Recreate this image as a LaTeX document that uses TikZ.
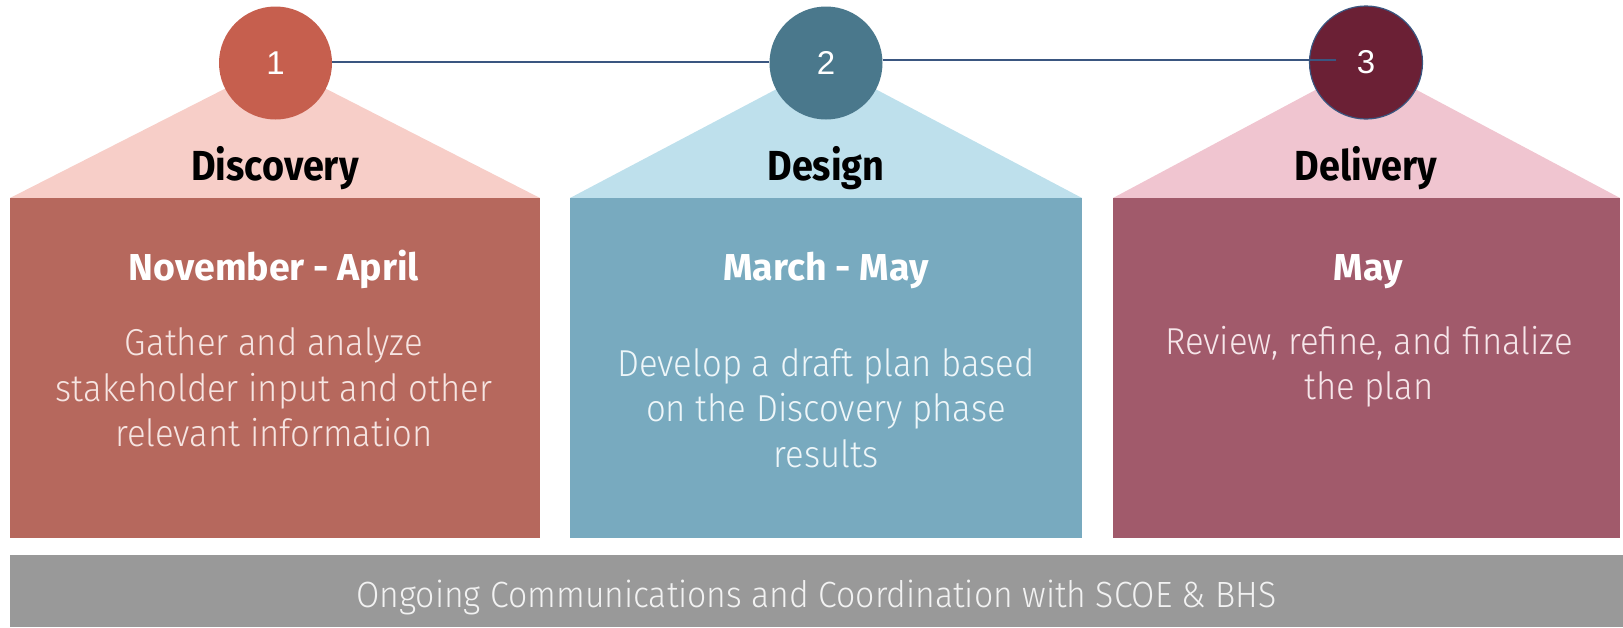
\documentclass[tikz,border=0pt]{standalone}
\usepackage{fontspec}
\setmainfont{Liberation Sans}
\newfontfamily\headf{Fira Sans}[FakeStretch=0.9]
\newfontfamily\datef{Fira Sans}
\newfontfamily\lightf{Fira Sans Light}[FakeStretch=0.925]
\newfontfamily\numf{Liberation Sans}
\definecolor{circA}{HTML}{C65F4E}
\definecolor{triA}{HTML}{F7CEC8}
\definecolor{recA}{HTML}{B6685D}
\definecolor{circB}{HTML}{4A788C}
\definecolor{triB}{HTML}{BEE0EC}
\definecolor{recB}{HTML}{78AABF}
\definecolor{circC}{HTML}{6B2035}
\definecolor{triC}{HTML}{F0C5D0}
\definecolor{recC}{HTML}{A15A6B}
\definecolor{barC}{HTML}{999999}
\definecolor{lineC}{HTML}{3A5680}
\definecolor{txtA}{HTML}{F6E4E1}
\definecolor{txtB}{HTML}{EEF6F9}
\definecolor{txtC}{HTML}{F6E6EA}
\definecolor{txtD}{HTML}{F2F2F2}
\begin{document}
\begin{tikzpicture}[x=1pt,y=-1pt,
  circ/.style={circle,minimum size=113pt,inner sep=0pt,text=white,
    font=\numf\fontsize{33}{38}\selectfont},
  head/.style={anchor=base,inner sep=0pt,text=black,
    font=\headf\bfseries\fontsize{42}{50}\selectfont},
  datelbl/.style={anchor=base,inner sep=0pt,text=white,
    font=\datef\bfseries\fontsize{37.5}{45}\selectfont},
  body/.style={anchor=base,inner sep=0pt,align=center,
    font=\lightf\fontsize{37.5}{45.5}\selectfont},
  link/.style={draw=lineC,line width=2pt}]
\useasboundingbox (0,0) rectangle (1623,627);
% triangles
\fill[triA] (10,198) -- (275.5,63) -- (540,198) -- cycle;
\fill[triB] (570,198) -- (826,63) -- (1082,198) -- cycle;
\fill[triC] (1113,198) -- (1366,63) -- (1620,198) -- cycle;
% boxes
\fill[recA] (10,198) rectangle (540,538);
\fill[recB] (570,198) rectangle (1082,538);
\fill[recC] (1113,198) rectangle (1620,538);
\fill[barC] (10,555) rectangle (1623,627);
% circles
\node[circ,fill=circA] (n1) at (275.5,63) {1};
\node[circ,fill=circB] (n2) at (826,63) {2};
\node[circ,fill=circC,draw=lineC,line width=1.2pt] (n3) at (1366,62.5) {3};
\coordinate (l2s) at (n2.east |- 0,59.5);
\coordinate (l2e) at (1336,59.5);
\draw[link] (n1.east |- 0,62.3) -- (n2.west |- 0,62.3);
\draw[link] (l2s) -- (l2e);
% headings
\node[head] (h1) at (275,180) {Discovery};
\node[head] (h2) at (826,180) {Design};
\node[head] (h3) at (1366,180) {Delivery};
% dates
\node[datelbl] (d1) at (274,280) {November - April};
\node[datelbl] (d2) at (826,280) {March - May};
\node[datelbl] (d3) at (1368,280) {May};
% bodies (anchor base = last line)
\node[body,text=txtA] (b1) at (274,446.7) {Gather and analyze\\stakeholder input and other\\relevant information};
\node[body,text=txtB] (b2) at (826,467) {Develop a draft plan based\\on the Discovery phase\\results};
\node[body,text=txtC] (b3) at (1369,399.5) {Review, refine, and finalize\\the plan};
% bar
\node[anchor=base,inner sep=0pt,text=txtD,font=\lightf\fontsize{36.5}{44}\selectfont] (bar) at (816.5,607.7) {Ongoing Communications and Coordination with SCOE \& BHS};
\end{tikzpicture}
\end{document}
